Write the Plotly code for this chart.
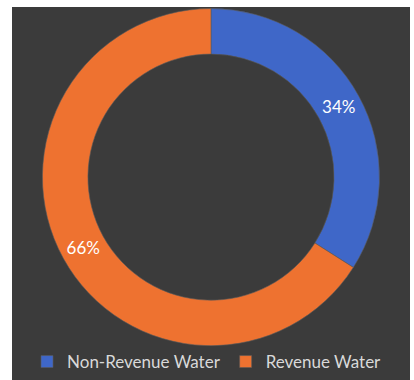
import plotly.graph_objects as go

# Water balance split
categories = ["Non-Revenue Water", "Revenue Water"]
shares = [34, 66]
slice_colors = ["#3F67C8", "#EE7230"]

BG = "#3B3B3B"
TOP_WHITE = 7
BOTTOM = 30
PLOT_H = 380 - BOTTOM

fig = go.Figure(
    go.Pie(
        labels=categories,
        values=shares,
        hole=0.73,
        sort=False,
        direction="clockwise",
        rotation=0,
        marker=dict(colors=slice_colors, line=dict(color="#5a5a5a", width=0.6)),
        textinfo="percent",
        textposition="inside",
        insidetextorientation="horizontal",
        textfont=dict(family="Lato, Open Sans, sans-serif", size=17, color="#FFFFFF"),
        domain=dict(x=[0.0765, 0.9235], y=[0.012, 0.976]),
        hoverinfo="label+percent",
    )
)

fig.update_layout(
    width=414,
    height=380,
    margin=dict(l=12, r=4, t=0, b=BOTTOM),
    paper_bgcolor="#FFFFFF",
    showlegend=True,
    legend=dict(
        orientation="h",
        x=0.49,
        xanchor="center",
        y=-BOTTOM / PLOT_H,
        yanchor="bottom",
        font=dict(family="Lato, Open Sans, sans-serif", size=17, color="#D9D9D9"),
        bgcolor="rgba(0,0,0,0)",
        itemwidth=30,
        tracegroupgap=0,
    ),
    shapes=[
        dict(
            type="rect",
            xref="paper",
            yref="paper",
            x0=0,
            x1=1,
            y0=-BOTTOM / PLOT_H,
            y1=1 - TOP_WHITE / PLOT_H,
            fillcolor=BG,
            line=dict(width=0),
            layer="below",
        )
    ],
)

fig.write_html("out.html")
